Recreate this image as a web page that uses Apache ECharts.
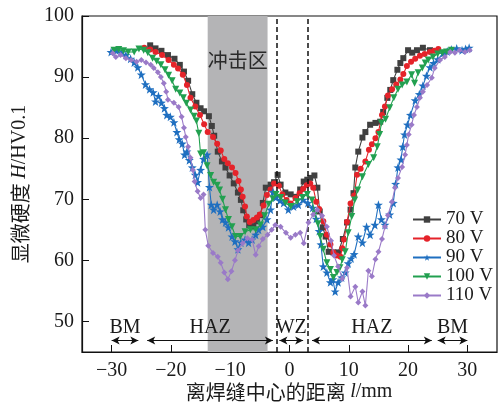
<!DOCTYPE html>
<html>
<head>
<meta charset="utf-8">
<script src="https://cdn.jsdelivr.net/npm/echarts@6/dist/echarts.min.js"></script>
<style>
  html, body { margin: 0; padding: 0; background: #fff; }
  #chart { width: 501px; height: 405px; }
</style>
</head>
<body>
<div id="chart"></div>
<script>
// Microhardness profiles across the weld, one list of [distance mm, HV0.1] per voltage
const seriesNames = ['70 V', '80 V', '90 V', '100 V', '110 V'];

const hv70 = [[-23.5,95.2],[-22.6,94.7],[-21.6,94.3],[-20.5,93.6],[-19.4,93.0],[-18.5,92.0],[-17.8,90.9],[-17.1,89.4],[-16.4,87.2],[-15.7,85.8],[-15.0,84.9],[-14.4,84.4],[-13.6,83.6],[-13.1,82.0],[-12.7,80.4],[-12.1,77.8],[-11.4,76.2],[-10.8,75.2],[-10.1,73.9],[-9.4,72.6],[-8.7,71.1],[-8.2,69.9],[-7.8,68.2],[-7.3,66.7],[-6.8,65.8],[-6.1,65.6],[-5.5,66.4],[-4.9,67.4],[-4.5,69.4],[-4.0,71.9],[-3.2,72.4],[-2.6,72.8],[-2.0,74.0],[-1.5,72.4],[-0.7,71.1],[0.2,70.8],[1.1,70.4],[1.8,71.6],[2.4,72.9],[3.0,73.2],[3.5,73.5],[4.2,73.9],[4.7,71.9],[5.1,68.0],[5.6,65.4],[6.1,63.9],[6.6,61.4],[7.4,61.3],[8.2,61.3],[9.0,63.5],[9.7,66.2],[10.3,68.3],[10.8,71.0],[11.1,75.2],[11.6,77.8],[12.3,80.1],[12.8,81.0],[13.6,82.2],[14.5,82.5],[15.3,82.7],[15.8,84.3],[16.5,86.6],[17.0,87.9],[17.5,89.5],[18.2,91.2],[18.7,92.3],[19.2,93.1],[20.0,94.4],[20.7,94.0],[21.5,94.4],[22.5,94.8],[23.7,94.4]];

const hv80 = [[-24.5,94.8],[-23.5,94.5],[-22.6,94.1],[-21.5,93.6],[-20.4,92.8],[-19.5,92.0],[-18.8,91.4],[-18.0,90.4],[-17.3,88.7],[-16.7,86.6],[-15.9,85.2],[-15.1,83.8],[-14.4,82.3],[-13.8,81.0],[-12.9,80.2],[-12.2,79.1],[-11.6,78.0],[-11.0,76.6],[-10.4,75.9],[-9.7,75.2],[-9.1,74.3],[-8.6,73.0],[-8.2,71.6],[-7.9,70.4],[-7.5,68.8],[-7.2,67.2],[-6.7,66.3],[-6.1,66.6],[-5.5,67.0],[-5.0,67.5],[-4.4,69.0],[-3.8,70.7],[-3.2,71.6],[-2.6,72.6],[-1.8,72.2],[-1.2,70.8],[-0.5,69.9],[0.2,69.3],[1.0,70.2],[1.7,71.0],[2.3,71.7],[2.9,72.3],[3.5,72.6],[4.0,71.9],[4.5,69.6],[5.0,68.4],[5.7,66.4],[6.3,64.2],[6.9,62.6],[7.4,61.3],[8.0,60.8],[8.6,60.6],[8.9,62.0],[9.2,63.4],[9.7,66.3],[10.3,69.3],[10.9,70.6],[11.4,74.0],[12.0,75.0],[12.8,76.2],[13.4,78.1],[13.9,79.0],[14.5,80.0],[15.0,81.0],[15.6,83.8],[16.1,85.2],[16.6,87.0],[17.3,88.0],[18.0,88.8],[18.7,89.6],[19.2,90.5],[19.8,91.8],[20.5,92.5],[21.2,93.0],[22.0,93.5],[22.8,93.8],[23.7,94.1],[24.4,94.3],[25.1,94.6]];

const hv90 = [[-30.1,94.1],[-29.2,94.3],[-28.4,94.0],[-27.6,93.6],[-26.8,93.0],[-26.2,92.4],[-25.6,91.6],[-25.0,90.4],[-24.3,88.8],[-23.6,88.0],[-23.0,87.5],[-22.6,86.0],[-22.1,86.9],[-21.6,85.8],[-21.1,84.9],[-20.7,83.8],[-20.1,83.5],[-19.5,82.6],[-19.0,81.0],[-18.6,79.8],[-18.1,79.1],[-17.7,77.3],[-17.3,77.8],[-16.9,76.4],[-16.4,75.2],[-15.9,74.0],[-15.5,72.8],[-15.0,74.8],[-14.5,76.6],[-13.9,77.3],[-13.5,72.0],[-13.2,69.1],[-12.8,68.3],[-12.2,69.1],[-11.7,68.0],[-11.3,66.7],[-10.8,66.2],[-10.3,65.4],[-9.7,63.9],[-9.2,63.1],[-8.7,61.8],[-8.2,62.9],[-7.5,63.4],[-6.9,62.9],[-6.3,63.4],[-5.7,64.2],[-5.2,65.0],[-4.5,65.5],[-3.8,66.7],[-3.2,68.3],[-2.8,71.2],[-2.3,70.3],[-1.6,69.8],[-1.0,69.4],[-0.2,68.3],[0.7,68.8],[1.5,69.1],[2.3,69.9],[3.1,69.4],[3.9,68.6],[4.5,66.8],[5.0,64.8],[5.3,62.6],[5.7,59.0],[6.3,58.0],[6.9,56.4],[7.3,56.9],[7.7,54.9],[8.2,56.4],[8.8,57.2],[9.4,58.0],[9.9,59.5],[10.4,60.3],[10.9,61.0],[11.6,63.9],[12.3,62.9],[13.0,65.5],[13.6,64.2],[14.4,65.8],[15.0,69.1],[15.5,66.7],[16.1,65.8],[16.9,67.5],[17.5,69.4],[17.9,72.5],[18.3,75.2],[18.8,76.5],[19.1,78.6],[19.4,80.6],[19.9,82.2],[20.4,83.8],[21.2,86.2],[21.9,87.2],[22.5,88.6],[23.1,90.2],[23.7,91.6],[24.3,92.3],[25.0,92.9],[25.9,93.9],[26.6,94.2],[27.3,94.5],[28.2,94.7],[29.1,94.4],[29.7,94.6],[30.3,94.8]];

const hv100 = [[-29.6,94.4],[-28.8,94.5],[-28.0,94.3],[-27.2,94.1],[-26.2,94.1],[-25.4,94.6],[-24.6,94.4],[-23.9,94.0],[-23.1,93.1],[-22.4,92.6],[-21.7,92.0],[-21.0,91.2],[-20.4,90.3],[-19.8,89.4],[-19.2,88.0],[-18.5,87.4],[-17.9,86.6],[-17.4,85.7],[-16.7,84.6],[-16.1,83.6],[-15.7,82.8],[-15.3,80.8],[-15.0,77.4],[-14.5,77.6],[-13.9,75.5],[-13.3,73.9],[-12.8,72.8],[-12.2,72.3],[-11.8,71.5],[-11.3,70.0],[-10.8,68.3],[-10.3,66.7],[-9.7,65.5],[-9.1,63.9],[-8.3,63.9],[-7.5,64.7],[-6.6,65.0],[-5.7,65.0],[-4.9,65.8],[-4.2,67.3],[-3.5,69.2],[-2.8,70.1],[-2.3,70.8],[-1.5,70.3],[-0.7,69.4],[0.2,68.8],[1.3,69.6],[2.2,70.3],[3.0,70.8],[3.8,69.9],[4.3,67.6],[4.8,66.0],[5.2,63.9],[5.7,61.8],[6.3,59.6],[6.9,58.5],[7.4,57.2],[8.0,58.0],[8.5,58.8],[8.9,60.1],[9.4,61.4],[9.9,64.5],[10.5,67.2],[11.0,69.9],[11.5,71.5],[12.3,73.7],[13.3,75.7],[14.2,76.8],[14.8,78.6],[15.2,80.6],[15.5,82.5],[16.2,83.1],[16.9,85.0],[17.6,86.6],[18.3,88.0],[19.0,88.7],[19.8,89.2],[20.6,90.4],[21.1,89.0],[21.7,90.7],[22.4,91.5],[22.9,92.3],[23.4,92.8],[24.2,93.3],[25.0,93.8],[25.8,94.0],[26.5,94.1],[27.3,94.4]];

const hv110 = [[-29.8,93.9],[-29.3,93.3],[-28.5,93.6],[-27.6,93.1],[-26.7,92.8],[-25.8,92.5],[-25.0,92.8],[-24.2,92.4],[-23.4,92.0],[-22.9,91.5],[-22.2,90.8],[-21.7,90.0],[-21.2,89.0],[-20.8,87.6],[-20.5,86.3],[-19.5,85.8],[-18.7,85.1],[-18.2,83.5],[-17.8,81.7],[-17.5,80.2],[-17.1,78.6],[-16.7,76.8],[-16.3,74.8],[-16.0,72.9],[-15.5,71.3],[-15.0,70.2],[-14.5,70.8],[-14.2,65.0],[-13.7,62.4],[-12.9,61.2],[-12.1,60.6],[-11.6,59.6],[-11.0,58.0],[-10.4,56.9],[-9.8,58.2],[-9.2,60.0],[-8.7,61.6],[-7.9,62.8],[-7.1,63.6],[-6.3,63.4],[-5.7,60.9],[-5.2,62.3],[-4.5,63.5],[-3.7,64.2],[-3.0,65.0],[-2.4,65.8],[-1.5,65.5],[-0.6,64.5],[0.2,63.7],[1.0,64.2],[1.8,64.5],[2.4,62.8],[3.2,66.2],[4.0,67.5],[4.7,68.3],[5.5,67.3],[6.3,65.5],[7.0,63.2],[7.5,60.8],[8.2,59.0],[8.9,57.0],[9.7,58.8],[10.3,54.1],[11.1,55.7],[11.6,53.1],[12.3,54.9],[12.8,52.6],[13.3,58.3],[13.9,57.4],[14.5,60.2],[15.0,61.4],[15.6,63.5],[16.1,65.5],[16.6,67.4],[17.3,69.6],[17.8,71.9],[18.3,73.5],[19.0,75.3],[19.5,77.3],[19.8,78.9],[20.1,80.6],[20.6,82.2],[21.0,83.8],[21.5,85.1],[22.0,86.6],[22.5,87.6],[23.2,88.7],[24.0,89.9],[24.5,91.5],[25.4,92.8],[26.2,93.3],[27.1,94.1],[27.9,94.0],[28.7,94.4],[29.6,94.1],[30.4,94.4]];

// axis ticks
const xTickValues = [-30, -20, -10, 0, 10, 20, 30];
const yTickValues = [50, 60, 70, 80, 90, 100];

// impact zone and weld-zone boundaries (mm)
const impactZone = [-13.8, -3.7];
const weldBounds = [-2.2, 3.1];

// zone spans along the bottom: [label, from, to]
const zones = [['BM', -30, -25.5], ['HAZ', -24.0, -2.8], ['WZ', -1.7, 2.3], ['HAZ', 3.8, 24.0], ['BM', 25.0, 30.0]];
const zoneLevel = 46.9;

const serif = '"Liberation Serif", "Times New Roman", serif';
const cjk = '"Noto Sans CJK SC", sans-serif';

const colors = ['#404040', '#e5232a', '#1f6fc0', '#22a050', '#9a7ac8'];
const starPath = 'path://M0,-10 L2.35,-3.24 L9.51,-3.09 L3.8,1.24 L5.88,8.09 L0,4 L-5.88,8.09 L-3.8,1.24 L-9.51,-3.09 L-2.35,-3.24 Z';
const symbols = ['rect', 'circle', starPath, 'triangle', 'diamond'];
const symbolSizes = [6, 6, 9, 7, 6];
const symbolRotates = [0, 0, 0, 180, 0];
const dataSets = [hv70, hv80, hv90, hv100, hv110];

const chart = echarts.init(document.getElementById('chart'), null, { renderer: 'canvas' });

const lineSeries = dataSets.map((d, i) => ({
  name: seriesNames[i],
  type: 'line',
  data: d,
  symbol: symbols[i],
  symbolSize: symbolSizes[i],
  symbolRotate: symbolRotates[i],
  showAllSymbol: true,
  lineStyle: { width: 1.1, color: colors[i] },
  itemStyle: { color: colors[i] },
  z: 3 + i
}));

const option = {
  animation: false,
  backgroundColor: '#fff',
  grid: {
    left: 82, right: 4, top: 16, bottom: 53,
    show: true, borderColor: '#111', borderWidth: 1.2, backgroundColor: 'transparent'
  },
  xAxis: {
    type: 'value', min: -35, max: 35,
    axisLine: { onZero: false, lineStyle: { color: '#111', width: 1.2 } },
    axisTick: { inside: true, length: 7, customValues: xTickValues, lineStyle: { color: '#111' } },
    axisLabel: {
      customValues: xTickValues, margin: 9,
      fontFamily: serif, fontSize: 20, color: '#1a1a1a',
      formatter: v => String(v).replace('-', '\u2212')
    },
    splitLine: { show: false }
  },
  yAxis: {
    type: 'value', min: 45, max: 100,
    axisLine: { onZero: false, lineStyle: { color: '#111', width: 1.2 } },
    axisTick: { inside: true, length: 7, customValues: yTickValues, lineStyle: { color: '#111' } },
    axisLabel: { customValues: yTickValues, margin: 8, fontFamily: serif, fontSize: 20, color: '#1a1a1a' },
    splitLine: { show: false }
  },
  legend: {
    data: seriesNames,
    orient: 'vertical',
    left: 412, top: 210,
    itemWidth: 28, itemHeight: 8, itemGap: 0,
    padding: 0,
    textStyle: { fontFamily: serif, fontSize: 19, color: '#1a1a1a', lineHeight: 17.5 }
  },
  series: [
    {
      name: 'zones-band',
      type: 'line', data: [], silent: true, z: 1,
      markArea: {
        silent: true,
        itemStyle: { color: '#b4b4b6' },
        label: {
          show: true, position: 'insideTop', distance: 34,
          fontFamily: cjk, fontSize: 20, color: '#2a2a2a'
        },
        data: [[{ name: '冲击区', xAxis: impactZone[0] }, { xAxis: impactZone[1] }]]
      },
      markLine: {
        silent: true, symbol: 'none',
        lineStyle: { color: '#111', type: [5, 3], width: 1.5 },
        label: { show: false },
        data: weldBounds.map(v => ({ xAxis: v }))
      }
    },
    {
      name: 'zones-arrows',
      type: 'line', data: [], silent: true, z: 2,
      markLine: {
        silent: true,
        symbol: ['arrow', 'arrow'],
        symbolSize: [6, 8],
        lineStyle: { color: '#111', type: 'solid', width: 1 },
        label: {
          show: true, position: 'insideMiddleTop', distance: 3,
          fontFamily: serif, fontSize: 20, color: '#1a1a1a',
          formatter: p => p.name
        },
        data: zones.map(z => [
          { name: z[0], coord: [z[1], zoneLevel] },
          { coord: [z[2], zoneLevel] }
        ])
      }
    }
  ].concat(lineSeries),
  graphic: [
    {
      type: 'text', x: 20, y: 184, rotation: Math.PI / 2,
      style: {
        text: '{c|显微硬度 }{i|H}{r|/HV0.1}',
        align: 'center', verticalAlign: 'middle',
        rich: {
          c: { fontFamily: cjk, fontSize: 20, fill: '#1a1a1a' },
          i: { fontFamily: serif, fontSize: 20, fontStyle: 'italic', fill: '#1a1a1a' },
          r: { fontFamily: serif, fontSize: 20, fill: '#1a1a1a' }
        }
      }
    },
    {
      type: 'text', x: 289, y: 392,
      style: {
        text: '{c|离焊缝中心的距离 }{i|l}{r|/mm}',
        align: 'center', verticalAlign: 'middle',
        rich: {
          c: { fontFamily: cjk, fontSize: 20, fill: '#1a1a1a' },
          i: { fontFamily: serif, fontSize: 20, fontStyle: 'italic', fill: '#1a1a1a' },
          r: { fontFamily: serif, fontSize: 20, fill: '#1a1a1a' }
        }
      }
    }
  ]
};

chart.setOption(option);
</script>
</body>
</html>
